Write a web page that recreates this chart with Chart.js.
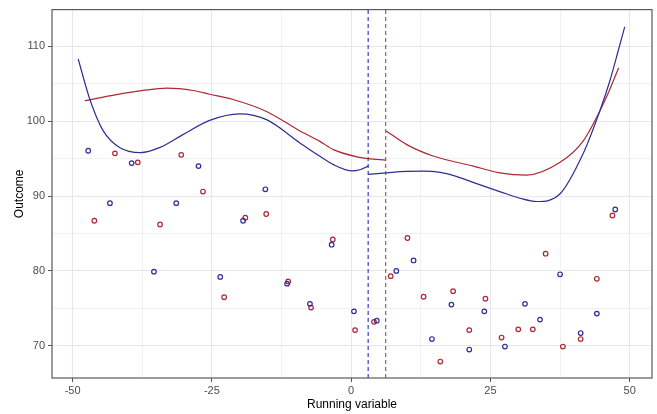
<!DOCTYPE html>
<html>
<head>
<meta charset="utf-8">
<script src="https://cdn.jsdelivr.net/npm/chart.js@4.4.1/dist/chart.umd.min.js"></script>
<style>
  html, body { margin: 0; padding: 0; background: #fff; }
  #wrap { width: 657px; height: 414px; }
</style>
</head>
<body>
<div id="wrap"><canvas id="rdPlot"></canvas></div>
<script>
// scatter points
const blueX = [-47.2, -43.3, -39.4, -35.4, -31.4, -27.4, -23.5, -19.4, -15.4, -11.5, -7.4, -3.5, 0.5, 4.6, 8.1, 11.2, 14.5, 18.0, 21.2, 23.9, 27.6, 31.2, 33.9, 37.5, 41.2, 44.1, 47.4];
const blueY = [96.05, 89.05, 94.4, 79.9, 89.05, 94.0, 79.2, 86.7, 90.9, 78.3, 75.6, 83.5, 74.6, 73.35, 80.0, 81.4, 70.9, 75.5, 69.5, 74.6, 69.9, 75.6, 73.5, 79.55, 71.7, 74.3, 88.2];
const redX = [-46.1, -42.4, -38.3, -34.3, -30.5, -26.6, -22.8, -19.0, -15.25, -11.3, -7.2, -3.3, 0.7, 4.1, 7.1, 10.1, 13.0, 16.0, 18.3, 21.2, 24.1, 27.0, 30.0, 32.6, 34.9, 38.0, 41.2, 44.1, 46.9];
const redY = [86.7, 95.7, 94.5, 86.2, 95.5, 90.6, 76.5, 87.1, 87.6, 78.6, 75.1, 84.2, 72.1, 73.2, 79.3, 84.4, 76.55, 67.9, 77.3, 72.1, 76.3, 71.1, 72.2, 72.2, 82.3, 69.9, 70.9, 78.95, 87.4];

// fitted curves
const blueLeftX = [-49.0, -46.9, -44.5, -41.5, -37.8, -34.3, -30.2, -25.4, -20.0, -15.2, -9.2, -5.6, -3.2, 0.2, 1.7, 3.05];
const blueLeftY = [108.3, 102.9, 98.7, 96.45, 95.8, 96.5, 98.2, 100.1, 100.97, 100.2, 97.1, 95.3, 94.2, 93.35, 93.55, 94.0];
const blueRightX = [3.05, 6.35, 9.9, 13.0, 16.0, 19.0, 22.0, 26.8, 30.3, 33.3, 37.5, 41.6, 44.6, 46.4, 47.9, 49.1];
const blueRightY = [92.9, 93.1, 93.3, 93.32, 93.15, 92.6, 91.8, 90.56, 89.7, 89.27, 90.3, 95.6, 101.3, 105.3, 109.3, 112.6];
const redLeftX = [-47.8, -42.1, -37.3, -33.1, -28.4, -25.4, -21.2, -15.2, -9.2, -5.6, -3.2, 1.3, 3.05, 6.2];
const redLeftY = [102.75, 103.55, 104.1, 104.4, 104.1, 103.6, 102.9, 101.3, 98.7, 97.3, 96.2, 95.2, 95.0, 94.8];
const redRightX = [6.3, 9.9, 14.7, 21.9, 26.7, 31.5, 37.5, 41.6, 44.6, 46.4, 48.0];
const redRightY = [98.7, 96.9, 95.35, 94.0, 93.1, 92.8, 94.5, 97.3, 101.3, 104.2, 107.1];

// cutoffs
const blueCutoff = 3.05;
const redCutoff = 6.2;

// axes
const xTicks = [-50, -37.5, -25, -12.5, 0, 12.5, 25, 37.5, 50];
const yTicks = [70, 75, 80, 85, 90, 95, 100, 105, 110];
const xMin = -53.7, xMax = 54;
const yMin = 65.7, yMax = 114.9;

const BLUE = 'rgb(46,46,148)';
const RED = 'rgb(172,40,50)';

const pts = (xs, ys) => xs.map((x, i) => ({x: x, y: ys[i]}));

function pointSet(xs, ys, color) {
  return {
    type: 'scatter',
    data: pts(xs, ys),
    showLine: false,
    pointRadius: 2.3,
    pointBorderWidth: 1.2,
    pointBorderColor: color,
    pointBackgroundColor: 'rgba(0,0,0,0)',
    pointHoverRadius: 2.3
  };
}

function curveSet(xs, ys, color) {
  return {
    type: 'line',
    data: pts(xs, ys),
    borderColor: color,
    borderWidth: 1.2,
    pointRadius: 0,
    fill: false,
    cubicInterpolationMode: 'monotone'
  };
}

function cutSet(x, color) {
  return {
    type: 'line',
    data: [{x: x, y: yMin}, {x: x, y: yMax}],
    borderColor: color,
    borderWidth: 1.1,
    borderDash: [4, 3],
    pointRadius: 0,
    fill: false
  };
}

const isMajorX = v => Math.abs(v % 25) < 1e-6;
const isMajorY = v => Math.abs(v % 10) < 1e-6;

const panelBorder = {
  id: 'panelBorder',
  afterDraw(chart) {
    const a = chart.chartArea, c = chart.ctx;
    c.save();
    c.strokeStyle = '#5a5a5a';
    c.lineWidth = 1.2;
    c.strokeRect(a.left, a.top, a.right - a.left, a.bottom - a.top);
    c.restore();
  }
};

const tickFont = {family: 'Liberation Sans, Arial, sans-serif', size: 11};
const titleFont = {family: 'Liberation Sans, Arial, sans-serif', size: 12};

new Chart(document.getElementById('rdPlot'), {
  data: {
    datasets: [
      pointSet(blueX, blueY, BLUE),
      pointSet(redX, redY, RED),
      curveSet(blueLeftX, blueLeftY, BLUE),
      curveSet(blueRightX, blueRightY, BLUE),
      curveSet(redLeftX, redLeftY, RED),
      curveSet(redRightX, redRightY, RED),
      cutSet(blueCutoff, 'rgb(40,40,200)'),
      cutSet(redCutoff, 'rgb(150,80,80)')
    ]
  },
  options: {
    responsive: true,
    maintainAspectRatio: false,
    animation: false,
    layout: {padding: {left: 4, top: 8, right: 5, bottom: 0}},
    plugins: {legend: {display: false}, tooltip: {enabled: false}},
    scales: {
      x: {
        type: 'linear',
        min: xMin,
        max: xMax,
        afterBuildTicks: s => { s.ticks = xTicks.map(v => ({value: v})); },
        afterFit: s => { s.height = 36; },
        border: {display: false},
        grid: {
          color: 'rgb(230,230,238)',
          lineWidth: c => isMajorX(c.tick.value) ? 1 : 0.6,
          tickColor: c => isMajorX(c.tick.value) ? '#555' : 'rgba(0,0,0,0)',
          tickLength: 4
        },
        ticks: {
          autoSkip: false,
          maxRotation: 0,
          padding: 2,
          color: '#4d4d4d',
          font: tickFont,
          callback: v => isMajorX(v) ? String(v) : ''
        },
        title: {display: true, text: 'Running variable', color: '#000', font: titleFont, padding: {top: 0, bottom: 2}}
      },
      y: {
        type: 'linear',
        min: yMin,
        max: yMax,
        afterBuildTicks: s => { s.ticks = yTicks.map(v => ({value: v})); },
        afterFit: s => { s.width = 48; },
        border: {display: false},
        grid: {
          color: 'rgb(230,230,238)',
          lineWidth: c => isMajorY(c.tick.value) ? 1 : 0.6,
          tickColor: c => isMajorY(c.tick.value) ? '#555' : 'rgba(0,0,0,0)',
          tickLength: 4
        },
        ticks: {
          autoSkip: false,
          padding: 3,
          color: '#4d4d4d',
          font: tickFont,
          callback: v => isMajorY(v) ? String(v) : ''
        },
        title: {display: true, text: 'Outcome', color: '#000', font: titleFont, padding: {top: 8, bottom: 0}}
      }
    }
  },
  plugins: [panelBorder]
});
</script>
</body>
</html>
